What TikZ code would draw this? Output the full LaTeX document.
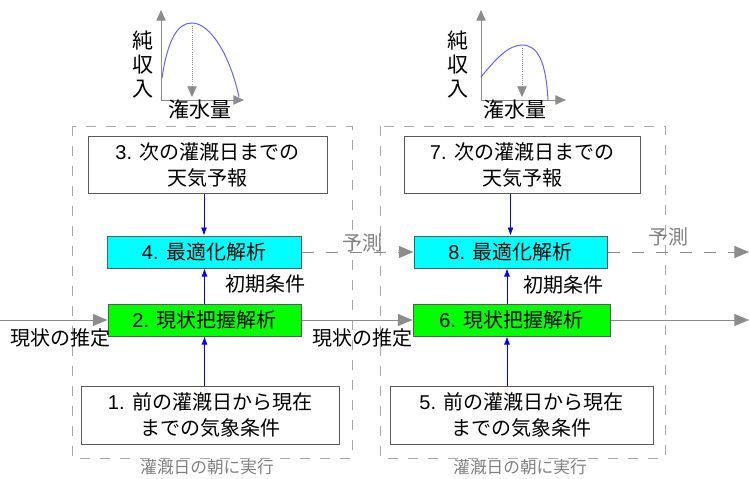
\documentclass[tikz,border=0pt]{standalone}
\usepackage{fontspec}
\setmainfont{Noto Sans CJK JP}
\newfontfamily\lat{Liberation Sans}
\usetikzlibrary{arrows.meta}
\definecolor{bordergray}{HTML}{5A5A5A}
\definecolor{linegray}{HTML}{8C8C8C}
\definecolor{dashgray}{HTML}{A8A8A8}
\definecolor{curveblue}{HTML}{6464FF}
\definecolor{boxcyan}{HTML}{00FFFF}
\definecolor{boxgreen}{HTML}{00FF00}
\tikzset{
  box/.style={draw=bordergray, line width=0.75pt, rectangle, inner sep=0pt, align=center, font=\fontsize{15}{19.5}\selectfont},
  container/.style={draw=dashgray, line width=0.75pt, dash pattern=on 7.5pt off 7.5pt},
  grayarrow/.style={draw=linegray, line width=0.75pt, -{Triangle[length=11pt,width=9pt]}, fill=linegray},
  dasharrow/.style={draw=linegray, line width=0.75pt, dash pattern=on 9pt off 9pt, -{Triangle[length=11pt,width=9pt]}},
  bluearrow/.style={draw=blue, line width=0.6pt, -{Latex[length=6pt,width=4.5pt]}},
  axis/.style={draw=linegray, line width=0.75pt, -{Triangle[length=8pt,width=7pt]}},
  lbl/.style={font=\fontsize{15}{18}\selectfont, inner sep=0pt},
  grylbl/.style={font=\fontsize{15}{18}\selectfont, inner sep=0pt, text=gray},
}
\begin{document}
\begin{tikzpicture}[x=0.75pt,y=-0.75pt]
\useasboundingbox (0,0) rectangle (749,478);
% containers
\draw[container] (72,126) rectangle (352,458);
\draw[container] (380,126) rectangle (665,458);
\node[inner sep=0pt, text=gray, font=\fontsize{12.5}{15}\selectfont] (run1) at (207,467) {灌漑日の朝に実行};
\node[inner sep=0pt, text=gray, font=\fontsize{12.5}{15}\selectfont] (run2) at (520,467) {灌漑日の朝に実行};
% boxes
\node[box, minimum width=179.25pt, minimum height=42.75pt] (b3) at (207.5,164.5) {{\lat 3. }次の灌漑日までの\\天気予報};
\node[box, minimum width=177pt, minimum height=42.75pt] (b7) at (522,164.5) {{\lat 7. }次の灌漑日までの\\天気予報};
\node[box, fill=boxcyan, minimum width=145.5pt, minimum height=24pt] (b4) at (204,252) {{\lat 4. }最適化解析};
\node[box, fill=boxcyan, minimum width=144.75pt, minimum height=24pt] (b8) at (510.5,252) {{\lat 8. }最適化解析};
\node[box, fill=boxgreen, minimum width=144.75pt, minimum height=24pt] (b2) at (204.5,320) {{\lat 2. }現状把握解析};
\node[box, fill=boxgreen, minimum width=147.75pt, minimum height=24pt] (b6) at (511.5,320) {{\lat 6. }現状把握解析};
\node[box, minimum width=193.5pt, minimum height=43.5pt] (b1) at (210,415) {{\lat 1. }前の灌漑日から現在\\までの気象条件};
\node[box, minimum width=197.25pt, minimum height=43.5pt] (b5) at (521.5,415) {{\lat 5. }前の灌漑日から現在\\までの気象条件};
% blue arrows
\draw[bluearrow] (b3.south -| b4) -- (b4.north);
\draw[bluearrow] (b7.south -| b8) -- (b8.north);
\draw[bluearrow] (b2.north) -- (b2.north |- b4.south);
\draw[bluearrow] (b6.north -| 507,0) -- (b8.south -| 507,0);
\draw[bluearrow] (b1.north -| b2) -- (b2.south);
\draw[bluearrow] (b5.north -| 507,0) -- (b6.south -| 507,0);
\node[lbl] (init1) at (265,284) {初期条件};
\node[lbl] (init2) at (563,285) {初期条件};
% gray flows
\coordinate (inL) at (0,320);
\coordinate (outR) at (749,320);
\coordinate (predR) at (749,252);
\draw[grayarrow] (inL) -- (b2.west);
\draw[grayarrow] (b2.east) -- (b6.west);
\draw[grayarrow] (b6.east) -- (outR);
\draw[dasharrow] (b4.east) -- (b8.west);
\draw[dasharrow] (b8.east) -- (predR);
\node[lbl] (est1) at (60,338) {現状の推定};
\node[lbl] (est2) at (362,338) {現状の推定};
\node[grylbl] (pred1) at (362,243) {予測};
\node[grylbl] (pred2) at (668,237) {予測};
% left chart
\coordinate (o1) at (161,100);
\coordinate (y1) at (161,10);
\coordinate (x1) at (244,100);
\draw[axis] (o1) -- (y1);
\draw[axis] (o1) -- (x1);
\draw[curveblue, line width=0.75pt] (162,78) .. controls (168,38) and (178,23) .. (192,23) .. controls (210,23) and (230,55) .. (239,97);
\draw[draw=linegray, line width=0.6pt, densely dotted, -{Triangle[length=8pt,width=7pt]}] (192,26) -- (192,97);
\node[inner sep=0pt, align=center, font=\fontsize{15.75}{18}\selectfont] (yl1) at (143,64) {純\\収\\入};
\node[inner sep=0pt, font=\fontsize{15.75}{18}\selectfont] (xl1) at (200,110) {潅水量};
% right chart
\coordinate (o2) at (481,100);
\coordinate (y2) at (481,10);
\coordinate (x2) at (566,100);
\draw[axis] (o2) -- (y2);
\draw[axis] (o2) -- (x2);
\draw[curveblue, line width=0.75pt] (481,77) .. controls (495,60) and (508,45) .. (522,45) .. controls (538,45) and (546,62) .. (548,100);
\draw[draw=linegray, line width=0.6pt, densely dotted, -{Triangle[length=8pt,width=7pt]}] (522,48) -- (522,97);
\node[inner sep=0pt, align=center, font=\fontsize{15.75}{18}\selectfont] (yl2) at (458,64) {純\\収\\入};
\node[inner sep=0pt, font=\fontsize{15.75}{18}\selectfont] (xl2) at (515,110) {潅水量};
\end{tikzpicture}
\end{document}
